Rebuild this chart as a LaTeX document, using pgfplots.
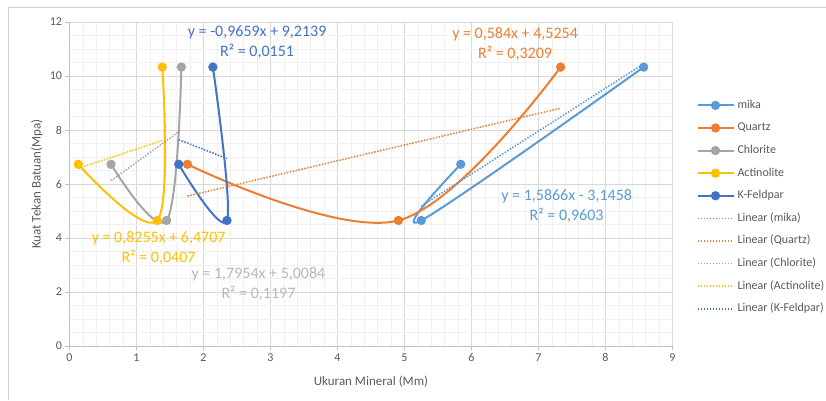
\documentclass[border=0pt]{standalone}
\usepackage{pgfplots}
\pgfplotsset{compat=1.18}
\usepackage{fontspec}
\setmainfont{Carlito}
\definecolor{cmika}{HTML}{5B9BD5}
\definecolor{cquartz}{HTML}{ED7D31}
\definecolor{cchlor}{HTML}{A5A5A5}
\definecolor{cactin}{HTML}{FFC000}
\definecolor{ckf}{HTML}{4472C4}
\definecolor{txt}{HTML}{595959}
\begin{document}
\begin{tikzpicture}[x=1pt,y=1pt]
\path[use as bounding box] (0,0) rectangle (826,400);
\draw[color=black!18, line width=0.8pt] (8,0) -- (8,393) -- (826,393);
\begin{axis}[
  at={(69.5pt,54pt)}, anchor=south west,
  scale only axis, width=603pt, height=324pt,
  xmin=0, xmax=9, ymin=0, ymax=12,
  xtick={0,1,...,9}, ytick={0,2,...,12},
  minor x tick num=4, minor y tick num=3,
  grid=both,
  major grid style={color=black!15, line width=0.7pt},
  minor grid style={color=black!6, line width=0.7pt},
  axis x line*=bottom, axis y line*=left,
  axis line style={color=black!25, line width=0.8pt, -},
  major tick length=4pt, minor tick length=0pt,
  tick align=outside,
  tick style={color=black!25, line width=0.8pt},
  ticklabel style={font=\fontsize{12}{14}\selectfont, text=txt},
  /pgf/number format/assume math mode=true,
  xlabel={Ukuran Mineral (Mm)}, ylabel={Kuat Tekan Batuan(Mpa)},
  label style={font=\fontsize{13}{15}\selectfont, text=txt},
  xlabel style={at={(axis description cs:0.5,-0.111)}, anchor=center},
  ylabel style={at={(axis description cs:-0.054,0.5)}, anchor=center},
  clip=false,
  legend cell align=left,
  legend style={at={(1.0345,0.768)}, anchor=north west, draw=none, fill=none,
    font=\fontsize{12}{14}\selectfont, text=txt,
    nodes={inner sep=0pt, text height=9pt, text depth=3pt},
    row sep=10.6pt, column sep=3pt},
  legend image code/.code={
    \draw[mark repeat=2, mark phase=2, #1] plot coordinates {(0pt,0pt) (18pt,0pt) (36pt,0pt)};
  },
  every axis plot/.append style={line width=2pt},
]
\addplot[cmika, smooth, tension=0.6, mark=*, mark size=3.6pt, mark options={fill=cmika, draw=cmika, solid}]
  coordinates {(5.84,6.73) (5.25,4.65) (8.57,10.33)};
\addlegendentry{mika}
\addplot[cquartz, smooth, tension=0.6, mark=*, mark size=3.6pt, mark options={fill=cquartz, draw=cquartz, solid}]
  coordinates {(1.76,6.73) (4.91,4.65) (7.33,10.33)};
\addlegendentry{Quartz}
\addplot[cchlor, smooth, tension=0.6, mark=*, mark size=3.6pt, mark options={fill=cchlor, draw=cchlor, solid}]
  coordinates {(0.62,6.73) (1.45,4.65) (1.67,10.33)};
\addlegendentry{Chlorite}
\addplot[cactin, smooth, tension=0.6, mark=*, mark size=3.6pt, mark options={fill=cactin, draw=cactin, solid}]
  coordinates {(0.13,6.73) (1.31,4.65) (1.385,10.33)};
\addlegendentry{Actinolite}
\addplot[ckf, smooth, tension=0.6, mark=*, mark size=3.6pt, mark options={fill=ckf, draw=ckf, solid}]
  coordinates {(1.63,6.73) (2.35,4.65) (2.14,10.33)};
\addlegendentry{K-Feldpar}
\addplot[cmika, line width=1.5pt, dash pattern=on 1.5pt off 1.5pt] coordinates {(5.25,5.184) (8.57,10.451)};
\addlegendentry{Linear (mika)}
\addplot[cquartz, line width=1.5pt, dash pattern=on 1.5pt off 1.5pt] coordinates {(1.76,5.553) (7.33,8.806)};
\addlegendentry{Linear (Quartz)}
\addplot[cchlor, line width=1.5pt, dash pattern=on 1.5pt off 1.5pt] coordinates {(0.62,6.122) (1.67,8.007)};
\addlegendentry{Linear (Chlorite)}
\addplot[cactin, line width=1.5pt, dash pattern=on 1.5pt off 1.5pt] coordinates {(0.13,6.578) (1.385,7.614)};
\addlegendentry{Linear (Actinolite)}
\addplot[ckf, line width=1.5pt, dash pattern=on 1.5pt off 1.5pt] coordinates {(1.63,7.640) (2.35,6.944)};
\addlegendentry{Linear (K-Feldpar)}
\begin{scope}[every node/.style={font=\fontsize{16}{20}\selectfont, align=center, inner sep=0pt}]
\node[text=ckf] at (axis cs:2.80,11.26) {y = -0,9659x + 9,2139\\R² = 0,0151};
\node[text=cquartz] at (axis cs:6.65,11.19) {y = 0,584x + 4,5254\\R² = 0,3209};
\node[text=cmika] at (axis cs:7.42,5.20) {y = 1,5866x - 3,1458\\R² = 0,9603};
\node[text=cactin] at (axis cs:1.33,3.62) {y = 0,8255x + 6,4707\\R² = 0,0407};
\node[text=black!28] at (axis cs:2.82,2.28) {y = 1,7954x + 5,0084\\R² = 0,1197};
\end{scope}
\end{axis}
\end{tikzpicture}
\end{document}
